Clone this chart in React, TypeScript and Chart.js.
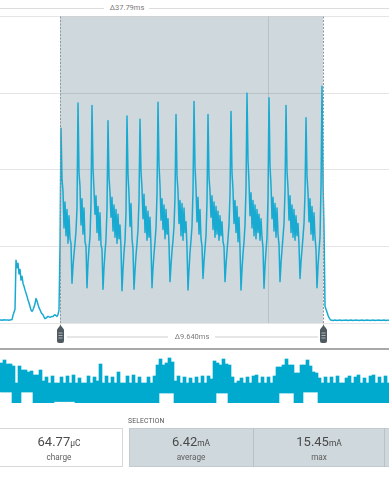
import React, { useEffect, useRef } from 'react';
import { Chart, registerables } from 'chart.js';

Chart.register(...registerables);

// ---- data -----------------------------------------------------------------
// sample period of the trace (ms); 263 samples span the 9.640 ms selection
const SAMPLE_MS = 0.036654;
const SEL_START_MS = 2.199;
const SEL_DELTA_MS = 9.64;
const SEL_END_MS = SEL_START_MS + SEL_DELTA_MS;
const X_GRID_MS = [9.823];
const X_MAX_MS = 14.258;
const Y_TICKS_MA = [0, 5, 10, 15, 20];

const WINDOW_LABEL = 'Δ37.79ms';
const SELECTION_LABEL = 'Δ9.640ms';

// current trace (mA), one sample per SAMPLE_MS
const currentMa = [
  0.2, 0.2, 0.18, 0.2, 0.21, 0.19, 0.2, 0.2, 0.19, 0.18,
  0.2, 0.21, 0.22, 0.5, 0.7, 0.9, 4.1, 3.6, 3.9, 3.2,
  3.5, 2.8, 3.05, 2.6, 2.4, 2.16, 1.95, 1.75, 1.5, 1.3,
  1.08, 0.85, 0.76, 0.86, 1.05, 1.25, 1.6, 1.45, 1.2, 1.0,
  0.86, 0.7, 0.6, 0.54, 0.4, 0.28, 0.32, 0.38, 0.43, 0.4,
  0.37, 0.4, 0.42, 0.43, 0.5, 0.54, 0.48, 0.43, 0.55, 0.86,
  5.0, 12.7, 9.4, 8.6, 6.2, 7.9, 5.7, 7.4, 5.2, 7.0,
  5.5, 5.2, 2.6, 3.7, 4.5, 5.2, 6.0, 7.5, 14.35, 9.8,
  8.9, 6.4, 8.1, 5.8, 7.5, 5.3, 5.0, 2.3, 3.9, 4.9,
  5.6, 7.8, 14.2, 10.1, 8.7, 7.1, 8.3, 5.9, 7.6, 5.4,
  7.2, 5.1, 4.8, 2.2, 3.6, 4.6, 5.5, 7.4, 13.2, 9.5,
  8.5, 6.9, 8.2, 6.0, 7.7, 5.6, 7.4, 5.2, 7.1, 5.5,
  6.4, 4.9, 2.1, 3.5, 4.6, 5.4, 7.2, 13.5, 9.7, 8.4,
  6.3, 7.8, 5.5, 4.8, 2.2, 3.4, 4.4, 5.2, 6.1, 8.0,
  13.3, 9.9, 8.8, 6.8, 8.4, 5.9, 7.6, 5.4, 7.3, 5.6,
  6.9, 5.0, 2.3, 3.6, 4.5, 5.3, 6.2, 8.4, 14.4, 10.3,
  9.0, 6.7, 8.1, 6.1, 7.7, 5.5, 7.4, 5.8, 6.8, 5.1,
  2.7, 3.8, 4.7, 5.4, 6.3, 8.2, 13.6, 9.6, 8.6, 6.5,
  8.0, 5.7, 7.8, 5.4, 7.5, 5.9, 6.6, 4.9, 2.16, 3.5,
  4.6, 5.4, 6.3, 8.6, 14.46, 10.2, 8.8, 6.6, 8.2, 5.8,
  7.4, 5.5, 5.0, 2.9, 4.0, 4.9, 5.7, 7.9, 13.6, 9.5,
  8.6, 6.9, 8.3, 6.1, 7.9, 5.6, 7.6, 5.8, 7.3, 5.4,
  7.0, 5.7, 6.6, 5.3, 5.0, 2.7, 3.8, 4.7, 5.5, 6.4,
  8.4, 13.8, 9.8, 8.7, 6.5, 8.0, 5.9, 7.6, 5.3, 6.9,
  4.9, 2.16, 3.5, 4.5, 5.3, 6.4, 8.8, 15.0, 10.6, 9.2,
  7.0, 8.5, 6.2, 8.0, 5.7, 7.7, 5.5, 7.4, 5.9, 7.1,
  5.4, 6.8, 5.6, 4.9, 2.27, 3.7, 4.7, 5.6, 8.2, 14.7,
  10.2, 9.0, 6.8, 8.2, 6.0, 7.8, 5.6, 7.5, 5.8, 5.1,
  2.7, 3.9, 4.8, 5.6, 6.5, 8.6, 14.2, 9.9, 8.8, 6.7,
  8.3, 5.9, 7.7, 5.6, 7.4, 5.4, 7.0, 5.7, 6.5, 5.1,
  2.9, 4.0, 4.8, 5.6, 6.5, 8.4, 13.4, 9.6, 8.5, 6.6,
  8.1, 5.8, 7.6, 5.4, 7.2, 5.6, 4.8, 2.3, 3.7, 4.7,
  5.6, 8.9, 15.45, 9.2, 6.2, 1.1, 0.9, 0.7, 0.5, 0.35,
  0.25, 0.18, 0.18, 0.17, 0.18, 0.19, 0.18, 0.17, 0.18, 0.18,
  0.19, 0.18, 0.17, 0.18, 0.18, 0.18, 0.19, 0.18, 0.17, 0.18,
  0.18, 0.19, 0.18, 0.17, 0.18, 0.18, 0.19, 0.18, 0.18, 0.17,
  0.18, 0.18, 0.19, 0.18, 0.17, 0.18, 0.18, 0.19, 0.18, 0.18,
  0.17, 0.18, 0.18, 0.19, 0.18, 0.17, 0.18, 0.18, 0.18, 0.19,
  0.18, 0.17, 0.18, 0.18, 0.19, 0.18, 0.17, 0.18, 0.18, 0.18,
];

// overview strip: min / max envelope per column (arbitrary units)
const overviewMax = [
  40, 43, 39, 39, 37, 20, 37, 33, 33, 31,
  32, 28, 28, 33, 22, 26, 20, 27, 20, 20,
  26, 20, 27, 20, 28, 20, 25, 20, 20, 27,
  20, 26, 22, 39, 20, 27, 20, 26, 20, 31,
  20, 20, 27, 20, 28, 20, 26, 20, 20, 26,
  20, 27, 38, 44, 38, 40, 45, 41, 22, 27,
  20, 26, 20, 25, 20, 26, 20, 27, 20, 27,
  24, 42, 40, 38, 44, 39, 38, 26, 20, 22,
  25, 20, 26, 20, 27, 28, 20, 26, 20, 26,
  20, 27, 36, 36, 38, 44, 38, 38, 30, 30,
  38, 38, 43, 37, 31, 30, 25, 20, 26, 20,
  26, 20, 27, 20, 20, 25, 27, 20, 26, 28,
  20, 25, 20, 27, 28, 20, 26, 20, 27, 20,
];
const overviewMin = [
  11, 11, 11, 11, 0, 0, 0, 11, 11, 11,
  11, 0, 0, 0, 0, 0, 0, 0, 1.5, 1.5,
  1.5, 1.5, 1.5, 1.5, 1.5, 0, 0, 0, 0, 0,
  0, 0, 0, 0, 0, 0, 0, 0, 0, 0,
  0, 0, 0, 0, 0, 0, 0, 0, 0, 0,
  0, 0, 0, 10, 10, 10, 10, 10, 0, 0,
  0, 0, 0, 0, 0, 0, 0, 0, 0, 0,
  0, 0, 10, 10, 10, 10, 0, 0, 0, 0,
  0, 0, 0, 0, 0, 0, 0, 0, 0, 0,
  0, 0, 0, 10, 10, 10, 10, 10, 0, 0,
  0, 11, 11, 11, 11, 11, 0, 0, 0, 0,
  0, 0, 0, 0, 0, 0, 0, 0, 0, 0,
  0, 0, 0, 0, 0, 0, 0, 0, 0, 0,
];
const OVERVIEW_MAX_UNITS = 54;

const stats = {
  charge: { value: '64.77', unit: 'μC', label: 'charge' },
  average: { value: '6.42', unit: 'mA', label: 'average' },
  max: { value: '15.45', unit: 'mA', label: 'max' },
};

// ---- styles ---------------------------------------------------------------
const LINE_COLOR = '#19aad2';
const FILL_BLUE = '#00a9ce';
const SEL_FILL = '#cfd8dc';
const GRID_COLOR = 'rgba(0,0,0,0.1)';
const FONT = 'Roboto, "Noto Sans", sans-serif';

function MainChart() {
  const ref = useRef<HTMLCanvasElement>(null);
  useEffect(() => {
    const canvas = ref.current;
    if (!canvas) return;
    const points = currentMa.map((v, i) => ({ x: i * SAMPLE_MS, y: v }));
    const selectionPlugin = {
      id: 'selection',
      beforeDraw(chart: any) {
        const { ctx, chartArea, scales } = chart;
        const x0 = scales.x.getPixelForValue(SEL_START_MS);
        const x1 = scales.x.getPixelForValue(SEL_END_MS);
        ctx.save();
        ctx.fillStyle = SEL_FILL;
        ctx.fillRect(x0, chartArea.top, x1 - x0, chartArea.bottom - chartArea.top);
        ctx.restore();
      },
      afterDatasetsDraw(chart: any) {
        const { ctx, chartArea, scales } = chart;
        ctx.save();
        ctx.strokeStyle = '#8f989c';
        ctx.lineWidth = 1;
        ctx.setLineDash([2, 1.5]);
        [SEL_START_MS, SEL_END_MS].forEach((t) => {
          const x = Math.round(scales.x.getPixelForValue(t)) + 0.5;
          ctx.beginPath();
          ctx.moveTo(x, chartArea.top);
          ctx.lineTo(x, chart.height);
          ctx.stroke();
        });
        ctx.restore();
      },
    };
    const chart = new Chart(canvas, {
      type: 'line',
      data: {
        datasets: [
          {
            data: points,
            borderColor: LINE_COLOR,
            borderWidth: 1.5,
            borderJoinStyle: 'round',
            pointRadius: 0,
            tension: 0,
            fill: false,
          },
        ],
      },
      options: {
        animation: false,
        responsive: false,
        events: [],
        layout: { padding: { top: 6.5, bottom: 5, left: 0, right: 0 } },
        plugins: { legend: { display: false }, tooltip: { enabled: false } },
        scales: {
          x: {
            type: 'linear',
            min: 0,
            max: X_MAX_MS,
            ticks: { display: false },
            grid: { drawTicks: false, color: GRID_COLOR },
            border: { display: false },
            afterBuildTicks: (axis: any) => {
              axis.ticks = X_GRID_MS.map((v) => ({ value: v }));
            },
          },
          y: {
            type: 'linear',
            min: Y_TICKS_MA[0],
            max: Y_TICKS_MA[Y_TICKS_MA.length - 1],
            ticks: { display: false, stepSize: Y_TICKS_MA[1] - Y_TICKS_MA[0] },
            grid: { drawTicks: false, color: GRID_COLOR },
            border: { display: false },
          },
        },
      } as any,
      plugins: [selectionPlugin],
    });
    return () => chart.destroy();
  }, []);
  return (
    <canvas
      ref={ref}
      width={389}
      height={318}
      style={{ position: 'absolute', left: 0, top: 10, width: 389, height: 318 }}
    />
  );
}

function OverviewChart() {
  const ref = useRef<HTMLCanvasElement>(null);
  useEffect(() => {
    const canvas = ref.current;
    if (!canvas) return;
    const chart = new Chart(canvas, {
      type: 'bar',
      data: {
        labels: overviewMax.map((_, i) => String(i)),
        datasets: [
          {
            data: overviewMax.map((m, i) => [overviewMin[i], m]),
            backgroundColor: FILL_BLUE,
            borderWidth: 0,
            barPercentage: 1,
            categoryPercentage: 1,
          },
        ],
      },
      options: {
        animation: false,
        responsive: false,
        events: [],
        layout: { padding: 0 },
        plugins: { legend: { display: false }, tooltip: { enabled: false } },
        scales: {
          x: { display: false },
          y: { display: false, min: 0, max: OVERVIEW_MAX_UNITS },
        },
      } as any,
    });
    return () => chart.destroy();
  }, []);
  return (
    <canvas
      ref={ref}
      width={390}
      height={54}
      style={{ position: 'absolute', left: 0, top: 349, width: 390, height: 54 }}
    />
  );
}

function Handle({ left }: { left: number }) {
  return (
    <svg
      width={7}
      height={18}
      viewBox="0 0 7 18"
      style={{ position: 'absolute', left, top: 325 }}
    >
      <path d="M3.5 0 L7 4.5 V16 Q7 18 5 18 H2 Q0 18 0 16 V4.5 Z" fill="#4f5b61" />
      <rect x={1.5} y={7.5} width={4} height={1} fill="#a9b3b8" />
      <rect x={1.5} y={10} width={4} height={1} fill="#a9b3b8" />
      <rect x={1.5} y={12.5} width={4} height={1} fill="#a9b3b8" />
    </svg>
  );
}

function Stat({ left, width, s }: { left: number; width: number; s: { value: string; unit: string; label: string } }) {
  return (
    <>
      <div
        style={{
          position: 'absolute', left, width, top: 435, textAlign: 'center',
          fontSize: 13, lineHeight: '13px', color: '#4a4a4a', whiteSpace: 'nowrap',
        }}
      >
        {s.value}
        <span style={{ fontSize: 8.4 }}>{s.unit}</span>
      </div>
      <div
        style={{
          position: 'absolute', left, width, top: 451.5, textAlign: 'center',
          fontSize: 8.2, lineHeight: '10px', color: '#5f5f5f', whiteSpace: 'nowrap',
        }}
      >
        {s.label}
      </div>
    </>
  );
}

export default function App() {
  const deltaText: React.CSSProperties = {
    position: 'absolute', fontSize: 7.5, lineHeight: '10px', color: '#7a7a7a',
    textAlign: 'center', whiteSpace: 'nowrap',
  };
  return (
    <div
      style={{
        position: 'absolute', left: 0, top: 0, width: 389, height: 480,
        overflow: 'hidden', background: '#fff', fontFamily: FONT,
      }}
    >
      {/* window delta */}
      <div style={{ position: 'absolute', left: 0, top: 8, width: 104, height: 1, background: '#dcdcdc' }} />
      <div style={{ ...deltaText, left: 104, width: 46, top: 3 }}>{WINDOW_LABEL}</div>
      <div style={{ position: 'absolute', left: 149, top: 8, width: 240, height: 1, background: '#dcdcdc' }} />

      <MainChart />

      {/* selection cursors */}
      <Handle left={57} />
      <Handle left={320} />
      <div style={{ position: 'absolute', left: 67, top: 336, width: 101, height: 1.5, background: '#e6e6e6' }} />
      <div style={{ ...deltaText, left: 170, width: 44, top: 331.5 }}>{SELECTION_LABEL}</div>
      <div style={{ position: 'absolute', left: 215, top: 336, width: 103, height: 1.5, background: '#e6e6e6' }} />

      {/* separator */}
      <div style={{ position: 'absolute', left: 0, top: 348, width: 389, height: 1.5, background: '#a9a9a9' }} />

      <OverviewChart />

      {/* stats */}
      <div
        style={{
          position: 'absolute', left: 128, top: 416.5, fontSize: 6.8, lineHeight: '8px',
          color: '#555', letterSpacing: 0.15,
        }}
      >
        SELECTION
      </div>
      <div
        style={{
          position: 'absolute', left: -5, top: 428, width: 128, height: 39,
          boxSizing: 'border-box', border: '1px solid #d8d8d8', background: '#fff',
        }}
      />
      <div
        style={{
          position: 'absolute', left: 129, top: 428, width: 270, height: 39,
          boxSizing: 'border-box', border: '1px solid #c3cbce', background: SEL_FILL,
        }}
      />
      <div style={{ position: 'absolute', left: 253, top: 428, width: 1, height: 39, background: '#b8c1c5' }} />
      <div style={{ position: 'absolute', left: 384, top: 428, width: 1, height: 39, background: '#b8c1c5' }} />
      <Stat left={-5} width={128} s={stats.charge} />
      <Stat left={129} width={124} s={stats.average} />
      <Stat left={254} width={130} s={stats.max} />
    </div>
  );
}
